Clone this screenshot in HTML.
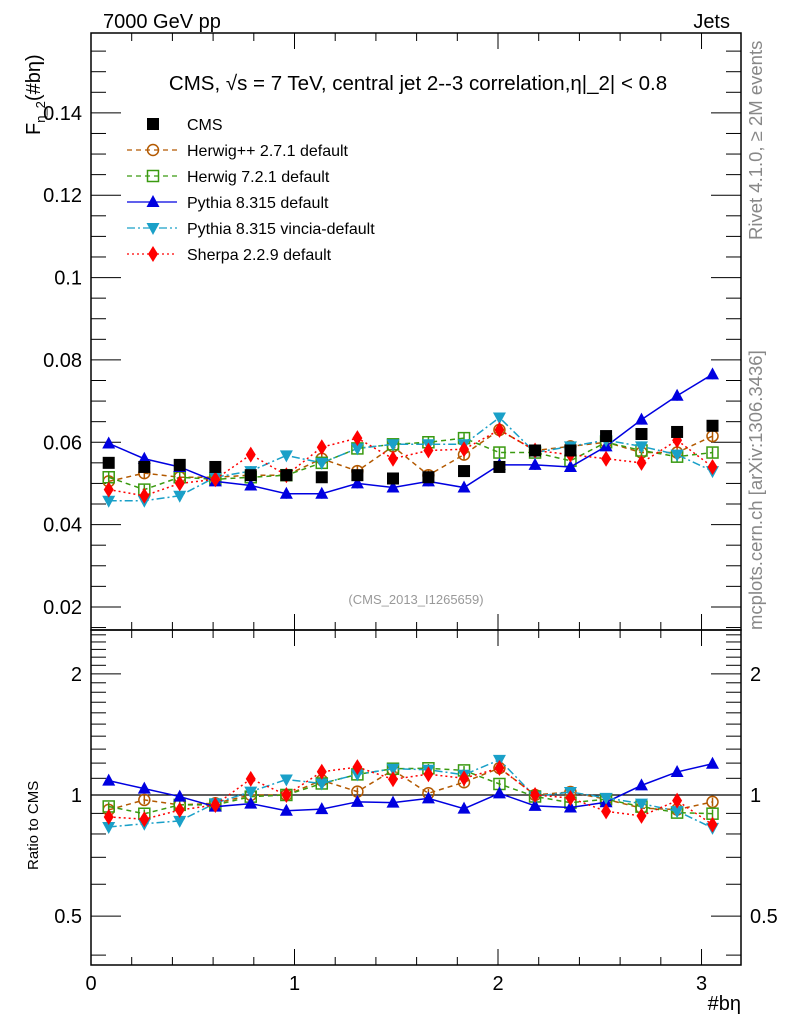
<!DOCTYPE html>
<html><head><meta charset="utf-8"><style>
body{margin:0;background:#fff}
svg{display:block;font-family:"Liberation Sans",sans-serif}
</style></head><body>
<svg id="c" width="786" height="1024" viewBox="0 0 786 1024">
<g id="axes"></g>
<g id="plot"></g>
<text x="103" y="28" font-size="20">7000 GeV pp</text>
<text x="730" y="28" font-size="20" text-anchor="end">Jets</text>
<text x="418" y="90" font-size="20.5" text-anchor="middle">CMS, √s = 7 TeV, central jet 2--3 correlation,η|_2| &lt; 0.8</text>
<text x="416" y="604" font-size="13" fill="#999" text-anchor="middle">(CMS_2013_I1265659)</text>
<text transform="translate(762,240) rotate(-90)" font-size="18.5" fill="#888">Rivet 4.1.0, ≥ 2M events</text>
<text transform="translate(762,630) rotate(-90)" font-size="18.5" fill="#888">mcplots.cern.ch [arXiv:1306.3436]</text>
<text transform="translate(40,135) rotate(-90)" font-size="20">F<tspan font-size="13" dy="5">η_2</tspan><tspan dy="-5">(#bη)</tspan></text>
<text transform="translate(38,870) rotate(-90)" font-size="15">Ratio to CMS</text>
<text x="741" y="1010" font-size="20" text-anchor="end">#bη</text>
<g id="legend"></g>
</svg>
<script>
const binCenters=[0.087,0.262,0.436,0.611,0.785,0.960,1.134,1.309,1.484,1.658,1.833,2.007,2.182,2.356,2.531,2.705,2.880,3.054];
const cmsVals=[0.055,0.054,0.0545,0.054,0.052,0.052,0.0515,0.052,0.0512,0.0515,0.053,0.054,0.058,0.058,0.0615,0.062,0.0625,0.064];
const herwigppVals=[0.0505,0.0525,0.0515,0.0515,0.052,0.052,0.056,0.053,0.059,0.052,0.057,0.063,0.058,0.059,0.060,0.0575,0.0575,0.0615];
const herwig7Vals=[0.0515,0.0485,0.0515,0.051,0.0515,0.052,0.055,0.0585,0.0595,0.060,0.061,0.0575,0.0575,0.0555,0.060,0.058,0.0565,0.0575];
const pythiaVals=[0.0597,0.056,0.054,0.0505,0.0495,0.0475,0.0475,0.050,0.049,0.0505,0.049,0.0545,0.0545,0.054,0.059,0.0655,0.0713,0.0765];
const vinciaVals=[0.0458,0.0458,0.047,0.0515,0.053,0.0568,0.055,0.0585,0.0595,0.0595,0.0595,0.066,0.0575,0.059,0.0605,0.059,0.057,0.053];
const sherpaVals=[0.0485,0.047,0.050,0.051,0.057,0.052,0.0588,0.061,0.056,0.058,0.0583,0.063,0.058,0.057,0.056,0.055,0.0605,0.054];
const xTicks=[0,1,2,3];
const yTicks=[0.02,0.04,0.06,0.08,0.1,0.12,0.14];
const rTicks=[0.5,1,2];

const NS="http://www.w3.org/2000/svg";
const L=91,R=741,T=33,MB=630,RB=965;
const XMIN=0,XMAX=3.194,YMIN=0.0144,YMAX=0.1594,RMIN=0.378,RMAX=2.57;
const sx=v=>L+(v-XMIN)/(XMAX-XMIN)*(R-L);
const sy=v=>MB-(v-YMIN)/(YMAX-YMIN)*(MB-T);
const sr=v=>RB-(Math.log(v)-Math.log(RMIN))/(Math.log(RMAX)-Math.log(RMIN))*(RB-MB);
function mk(tag,attrs,parent){const e=document.createElementNS(NS,tag);for(const k in attrs)e.setAttribute(k,attrs[k]);parent.appendChild(e);return e;}
const axes=document.getElementById('axes'),plot=document.getElementById('plot'),leg=document.getElementById('legend');

let f1=mk('rect',{x:L,y:T,width:R-L,height:MB-T,fill:'none',stroke:'#000','stroke-width':1.5},axes);

let f2=mk('rect',{x:L,y:MB,width:R-L,height:RB-MB,fill:'none',stroke:'#000','stroke-width':1.5},axes);

let ref=mk('line',{x1:L,x2:R,y1:sr(1),y2:sr(1),stroke:'#000','stroke-width':1.2},axes);


for(let v=0;v<=3.19;v+=0.2){const m=Math.abs(v-Math.round(v))<1e-6;const h=m?16:8;const x=sx(v);
 for(const [a,b] of [[T,T+h],[MB-h,MB],[MB,MB+h],[RB-h,RB]]) mk('line',{x1:x,x2:x,y1:a,y2:b,stroke:'#000'},axes);}
xTicks.forEach(v=>{const t=mk('text',{x:sx(v),y:990,'font-size':20,'text-anchor':'middle'},axes);t.textContent=v;
 });
for(let v=0.015;v<0.159;v+=0.005){const m=Math.abs(v*50-Math.round(v*50))<1e-6;const h=m?30:15;const y=sy(v);
 mk('line',{x1:L,x2:L+h,y1:y,y2:y,stroke:'#000'},axes);mk('line',{x1:R-h,x2:R,y1:y,y2:y,stroke:'#000'},axes);}
yTicks.forEach(v=>{const t=mk('text',{x:82,y:sy(v)+7,'font-size':20,'text-anchor':'end'},axes);t.textContent=String(v);
 });
const rMinor=[0.4,0.5,0.6,0.7,0.8,0.9,1,1.1,1.2,1.3,1.4,1.5,1.6,1.7,1.8,1.9,2,2.1,2.2,2.3,2.4,2.5];
rMinor.forEach(v=>{const m=rTicks.includes(v);const h=m?30:15;const y=sr(v);
 mk('line',{x1:L,x2:L+h,y1:y,y2:y,stroke:'#000'},axes);mk('line',{x1:R-h,x2:R,y1:y,y2:y,stroke:'#000'},axes);});
rTicks.forEach(v=>{const t=mk('text',{x:82,y:sr(v)+7,'font-size':20,'text-anchor':'end'},axes);t.textContent=String(v);
 
 const t2=mk('text',{x:750,y:sr(v)+7,'font-size':20},axes);t2.textContent=String(v);
 });

function marker(g,type,x,y,col){
 if(type==='sq')mk('rect',{x:x-6,y:y-6,width:12,height:12,fill:col},g);
 else if(type==='osq')mk('rect',{x:x-5.5,y:y-5.5,width:11,height:11,fill:'none',stroke:col,'stroke-width':1.5},g);
 else if(type==='oc')mk('circle',{cx:x,cy:y,r:5.5,fill:'none',stroke:col,'stroke-width':1.5},g);
 else if(type==='tu')mk('polygon',{points:`${x},${y-7} ${x-6.5},${y+5} ${x+6.5},${y+5}`,fill:col},g);
 else if(type==='td')mk('polygon',{points:`${x},${y+7} ${x-6.5},${y-5} ${x+6.5},${y-5}`,fill:col},g);
 else if(type==='dm')mk('polygon',{points:`${x},${y-8} ${x-5},${y} ${x},${y+8} ${x+5},${y}`,fill:col},g);
}
const series=[
 {name:'cms',label:'CMS',vals:cmsVals,col:'#000',m:'sq',dash:null},
 {name:'herwigpp',label:'Herwig++ 2.7.1 default',vals:herwigppVals,col:'#b35900',m:'oc',dash:'5,4'},
 {name:'herwig7',label:'Herwig 7.2.1 default',vals:herwig7Vals,col:'#3a9a10',m:'osq',dash:'5,4'},
 {name:'pythia',label:'Pythia 8.315 default',vals:pythiaVals,col:'#0000e0',m:'tu',dash:''},
 {name:'vincia',label:'Pythia 8.315 vincia-default',vals:vinciaVals,col:'#1aa0c8',m:'td',dash:'8,3,2,3'},
 {name:'sherpa',label:'Sherpa 2.2.9 default',vals:sherpaVals,col:'#ff0000',m:'dm',dash:'2,3'}
];
const order=[1,2,3,4,5,0];
order.forEach(i=>{const s=series[i];
 const g=mk('g',{},plot);
 const gr=mk('g',{},plot);
 const ratios=s.vals.map((v,k)=>v/cmsVals[k]);
 if(s.dash!==null){
  const la={fill:'none',stroke:s.col,'stroke-width':1.5};if(s.dash)la['stroke-dasharray']=s.dash;
  mk('polyline',Object.assign({points:binCenters.map((x,k)=>sx(x)+','+sy(s.vals[k])).join(' ')},la),g);
  mk('polyline',Object.assign({points:binCenters.map((x,k)=>sx(x)+','+sr(ratios[k])).join(' ')},la),gr);
 }
 binCenters.forEach((x,k)=>{const px=sx(x),py=sy(s.vals[k]),e=0.0012;
  if(s.dash!==null){mk('line',{x1:px,x2:px,y1:sy(s.vals[k]+e),y2:sy(s.vals[k]-e),stroke:s.col,'stroke-width':1.5},g);
   mk('line',{x1:px,x2:px,y1:sr(ratios[k]*1.025),y2:sr(ratios[k]/1.025),stroke:s.col,'stroke-width':1.5},gr);}
  marker(g,s.m,px,py,s.col);
  if(s.dash!==null)marker(gr,s.m,px,sr(ratios[k]),s.col);
 });
 const ly=124+i*26;
 const le=mk('g',{},leg);
 if(s.dash!==null){const la={x1:127,x2:177,y1:ly,y2:ly,stroke:s.col,'stroke-width':1.3};if(s.dash)la['stroke-dasharray']=s.dash;mk('line',la,le);}
 marker(le,s.m,153,ly,s.col);
 const t=mk('text',{x:187,y:ly+6,'font-size':16},le);t.textContent=s.label;
});
</script>
</body></html>
